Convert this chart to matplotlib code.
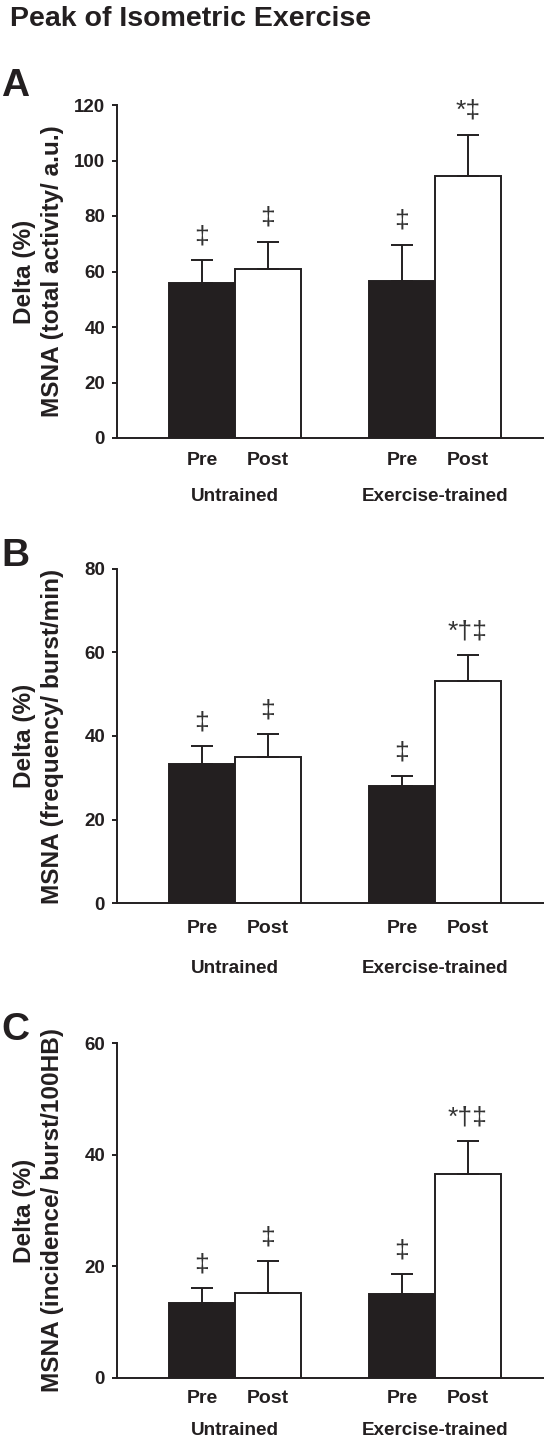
import matplotlib
matplotlib.use("Agg")
import matplotlib.pyplot as plt
import numpy as np

plt.rcParams['font.family'] = ['Liberation Sans', 'DejaVu Sans']

INK = '#231f20'

# data
groups = ['Untrained', 'Exercise-trained']
phases = ['Pre', 'Post']

mean_a = [56.0, 61.0, 56.7, 94.5]
err_a = [8.0, 9.8, 13.0, 14.8]
mean_b = [33.3, 34.9, 28.1, 53.2]
err_b = [4.2, 5.6, 2.2, 6.1]
mean_c = [13.4, 15.3, 15.0, 36.5]
err_c = [2.7, 5.6, 3.6, 5.9]

marks_a = ['\u2021', '\u2021', '\u2021', '*\u2021']
marks_b = ['\u2021', '\u2021', '\u2021', '*\u2020\u2021']
marks_c = ['\u2021', '\u2021', '\u2021', '*\u2020\u2021']

ylabels = ['MSNA (total activity/ a.u.)',
           'MSNA (frequency/ burst/min)',
           'MSNA (incidence/ burst/100HB)']
yticks_all = [np.arange(0, 121, 20), np.arange(0, 81, 20), np.arange(0, 61, 20)]
letters = ['A', 'B', 'C']

W, H = 544, 1444
fig = plt.figure(figsize=(W / 100, H / 100), dpi=100)

fig.text(10 / W, 1 - 6 / H, 'Peak of Isometric Exercise', fontsize=20.5,
         fontweight='bold', color=INK, ha='left', va='top')

# layout in pixels: (axes top, axes bottom, letter top, phase label gap, group label gap)
layout = [(105, 438, 68, 14, 50),
          (569, 903, 538, 17, 57),
          (1043, 1378, 1012, 12, 44)]

means = [mean_a, mean_b, mean_c]
errs = [err_a, err_b, err_c]
marks = [marks_a, marks_b, marks_c]

bw = 0.33
xpos = np.array([0 - bw / 2, 0 + bw / 2, 1 - bw / 2, 1 + bw / 2])
colors = [INK, 'white', INK, 'white']
px2pt = 0.72

for i in range(3):
    top, bot, ltop, gap1, gap2 = layout[i]
    ax = fig.add_axes([117 / W, 1 - bot / H, 428 / W, (bot - top) / H])
    m = means[i]
    e = errs[i]
    ax.bar(xpos, m, width=bw, color=colors, edgecolor=INK, linewidth=1.4, zorder=2)
    ax.errorbar(xpos, m, yerr=[np.zeros(4), e], fmt='none', ecolor=INK,
                elinewidth=1.4, capsize=8, capthick=1.4, zorder=3)
    for x, v, ev, s in zip(xpos, m, e, marks[i]):
        ax.annotate(s, xy=(x, v + ev), xytext=(0, 8.5), textcoords='offset points',
                    ha='center', va='bottom', fontsize=19, color='#333333')
    ymax = yticks_all[i][-1]
    ax.set_ylim(0, ymax)
    ax.set_xlim(-0.59, 1.55)
    ax.set_yticks(yticks_all[i])
    ax.set_xticks([])
    for sp in ['top', 'right']:
        ax.spines[sp].set_visible(False)
    for sp in ['left', 'bottom']:
        ax.spines[sp].set_color(INK)
        ax.spines[sp].set_linewidth(1.4)
    ax.tick_params(axis='y', direction='out', length=3.6, width=1.4, color=INK,
                   pad=5, labelsize=13.5, labelcolor=INK)
    for lab in ax.get_yticklabels():
        lab.set_fontweight('bold')
    for j, x in enumerate(xpos):
        ax.annotate(phases[j % 2], xy=(x, 0), xycoords=('data', 'axes fraction'),
                    xytext=(0, -gap1 * px2pt), textcoords='offset points',
                    ha='center', va='top', fontsize=14, fontweight='bold', color=INK)
    for g, gname in enumerate(groups):
        ax.annotate(gname, xy=(g, 0), xycoords=('data', 'axes fraction'),
                    xytext=(0, -gap2 * px2pt), textcoords='offset points',
                    ha='center', va='top', fontsize=13.6, fontweight='bold', color=INK)
    ymid = 1 - (top + bot) / 2 / H
    fig.text(24 / W, ymid, 'Delta (%)', rotation=90, ha='center', va='center',
             fontsize=17.6, fontweight='bold', color=INK)
    fig.text(53 / W, ymid, ylabels[i], rotation=90, ha='center', va='center',
             fontsize=17.6, fontweight='bold', color=INK)
    fig.text(1 / W, 1 - ltop / H, letters[i], fontsize=28, fontweight='bold',
             color=INK, ha='left', va='top')

fig.savefig('out.png', dpi=100)
